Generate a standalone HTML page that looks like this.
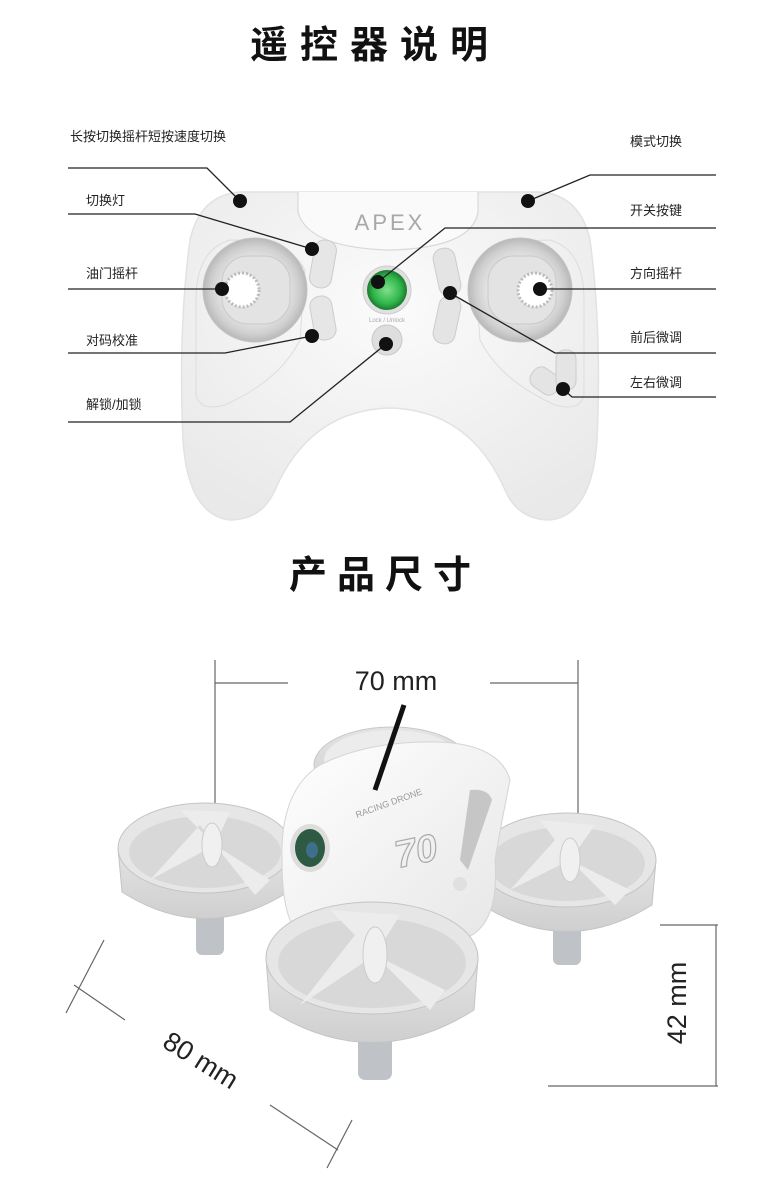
<!DOCTYPE html>
<html><head><meta charset="utf-8"><style>
html,body{margin:0;padding:0;background:#fff;}
svg{display:block;}
text{font-family:"Liberation Sans","Noto Sans CJK SC",sans-serif;}
</style></head><body>
<svg width="780" height="1200" viewBox="0 0 780 1200" xmlns="http://www.w3.org/2000/svg">
<defs>
<radialGradient id="body" cx="0.5" cy="0.35" r="0.7"><stop offset="0" stop-color="#fbfbfb"/><stop offset="1" stop-color="#e9e9e9"/></radialGradient>
<radialGradient id="grn" cx="0.5" cy="0.5" r="0.5"><stop offset="0" stop-color="#7fe08a"/><stop offset="0.7" stop-color="#2fb54a"/><stop offset="1" stop-color="#1d7a30"/></radialGradient>
<radialGradient id="ring" cx="0.5" cy="0.5" r="0.5"><stop offset="0.6" stop-color="#e6e6e6"/><stop offset="0.85" stop-color="#cfcfcf"/><stop offset="1" stop-color="#b8b8b8"/></radialGradient>
<linearGradient id="duct" x1="0" y1="0" x2="0" y2="1"><stop offset="0" stop-color="#e4e4e4"/><stop offset="1" stop-color="#cfcfcf"/></linearGradient>
<linearGradient id="dbody" x1="0" y1="0" x2="1" y2="1"><stop offset="0" stop-color="#ffffff"/><stop offset="1" stop-color="#e6e6e6"/></linearGradient>
</defs>

<!-- Titles -->
<text x="375" y="58" font-size="38" font-weight="bold" text-anchor="middle" letter-spacing="12" fill="#111">遥控器说明</text>
<text x="385" y="588" font-size="38" font-weight="bold" text-anchor="middle" letter-spacing="10" fill="#111">产品尺寸</text>

<!-- Controller body -->
<path d="M240 192 Q200 195 190 240 Q178 330 183 440 Q188 515 230 520 Q262 520 275 490 Q310 410 390 408 Q470 410 505 490 Q518 520 550 520 Q592 515 597 440 Q602 330 590 240 Q580 195 540 192 Z" fill="url(#body)" stroke="#e2e2e2" stroke-width="1.5"/>
<path d="M298 192 L298 212 Q308 248 390 250 Q472 248 478 212 L478 192" fill="#fafafa" stroke="#d8d8d8" stroke-width="1.2"/>
<text x="390" y="230" font-size="22" text-anchor="middle" fill="#a8a8a8" letter-spacing="3">APEX</text>
<path d="M230 240 Q196 250 196 300 L196 395 Q200 412 225 405 Q280 380 300 340 L305 270 Q290 240 230 240Z" fill="none" stroke="#ddd" stroke-width="1"/>
<path d="M550 240 Q584 250 584 300 L584 395 Q580 412 555 405 Q500 380 480 340 L475 270 Q490 240 550 240Z" fill="none" stroke="#ddd" stroke-width="1"/>
<circle cx="255" cy="290" r="52" fill="url(#ring)" stroke="#c2c2c2"/>
<rect x="222" y="256" width="68" height="68" rx="26" fill="#e3e3e3" stroke="#c9c9c9"/>
<circle cx="242" cy="290" r="17" fill="#fff" stroke="#bbb" stroke-width="3" stroke-dasharray="2 2"/>
<circle cx="242" cy="290" r="8" fill="#fff"/>
<circle cx="520" cy="290" r="52" fill="url(#ring)" stroke="#c2c2c2"/>
<rect x="488" y="256" width="68" height="68" rx="26" fill="#e3e3e3" stroke="#c9c9c9"/>
<circle cx="535" cy="290" r="17" fill="#fff" stroke="#bbb" stroke-width="3" stroke-dasharray="2 2"/>
<rect x="312" y="240" width="22" height="48" rx="10" fill="#e6e6e6" stroke="#ccc" transform="rotate(10 323 264)"/>
<rect x="312" y="296" width="22" height="44" rx="10" fill="#e6e6e6" stroke="#ccc" transform="rotate(-10 323 318)"/>
<circle cx="387" cy="290" r="24" fill="#e0e0e0" stroke="#ccc"/>
<circle cx="387" cy="290" r="20" fill="url(#grn)"/>
<text x="387" y="322" font-size="6" text-anchor="middle" fill="#aaa">Lock / Unlock</text>
<circle cx="387" cy="340" r="15" fill="#dedede" stroke="#c8c8c8"/>
<rect x="436" y="248" width="22" height="48" rx="10" fill="#e4e4e4" stroke="#ccc" transform="rotate(-12 447 272)"/>
<rect x="436" y="296" width="22" height="48" rx="10" fill="#e4e4e4" stroke="#ccc" transform="rotate(12 447 320)"/>
<rect x="530" y="370" width="30" height="22" rx="9" fill="#e4e4e4" stroke="#ccc" transform="rotate(35 545 381)"/>
<rect x="556" y="350" width="20" height="40" rx="9" fill="#e4e4e4" stroke="#ccc"/>

<!-- Callouts -->
<g stroke="#222" stroke-width="1.3" fill="none">
<polyline points="68,168 207,168 240,201"/>
<polyline points="716,175 590,175 528,201"/>
<polyline points="68,214 195,214 312,249"/>
<polyline points="716,228 445,228 378,282"/>
<polyline points="68,289 222,289"/>
<polyline points="716,289 540,289"/>
<polyline points="68,353 225,353 312,336"/>
<polyline points="450,293 555,353 716,353"/>
<polyline points="563,389 572,397 716,397"/>
<polyline points="68,422 290,422 386,344"/>
</g>
<g fill="#111">
<circle cx="240" cy="201" r="7"/><circle cx="528" cy="201" r="7"/>
<circle cx="312" cy="249" r="7"/><circle cx="378" cy="282" r="7"/>
<circle cx="222" cy="289" r="7"/><circle cx="540" cy="289" r="7"/>
<circle cx="312" cy="336" r="7"/><circle cx="450" cy="293" r="7"/>
<circle cx="563" cy="389" r="7"/><circle cx="386" cy="344" r="7"/>
</g>
<g font-size="13" fill="#222">
<text x="70" y="141">长按切换摇杆短按速度切换</text>
<text x="630" y="146">模式切换</text>
<text x="86" y="205">切换灯</text>
<text x="630" y="215">开关按键</text>
<text x="86" y="278">油门摇杆</text>
<text x="630" y="278">方向摇杆</text>
<text x="86" y="345">对码校准</text>
<text x="630" y="342">前后微调</text>
<text x="630" y="387">左右微调</text>
<text x="86" y="409">解锁/加锁</text>
</g>

<!-- Dimension lines -->
<g stroke="#666" stroke-width="1.2" fill="none">
<line x1="215" y1="660" x2="215" y2="805"/>
<line x1="578" y1="660" x2="578" y2="820"/>
<line x1="215" y1="683" x2="288" y2="683"/>
<line x1="490" y1="683" x2="578" y2="683"/>
<line x1="716" y1="925" x2="716" y2="1086"/>
<line x1="660" y1="925" x2="718" y2="925"/>
<line x1="548" y1="1086" x2="718" y2="1086"/>
<line x1="104" y1="940" x2="66" y2="1013"/>
<line x1="74" y1="985" x2="125" y2="1020"/>
<line x1="270" y1="1105" x2="338" y2="1150"/>
<line x1="352" y1="1120" x2="327" y2="1168"/>
</g>
<text x="396" y="690" font-size="27" text-anchor="middle" fill="#222">70 mm</text>
<text x="0" y="0" font-size="27" text-anchor="middle" fill="#222" transform="translate(686 1003) rotate(-90)">42 mm</text>
<text x="0" y="0" font-size="27" text-anchor="middle" fill="#222" transform="translate(196 1068) rotate(32)">80 mm</text>

<!-- Drone -->
<ellipse cx="392" cy="765" rx="78" ry="38" fill="url(#duct)" stroke="#c8c8c8"/>
<ellipse cx="392" cy="760" rx="68" ry="30" fill="#ececec"/>
<rect x="255" y="870" width="270" height="22" fill="#dcdcdc"/>
<rect x="196" y="900" width="28" height="55" rx="6" fill="#bfc3c8"/>
<path d="M118 848 L122 892 Q205 945 288 892 L292 848" fill="url(#duct)" stroke="#c4c4c4"/>
<ellipse cx="205" cy="848" rx="87" ry="45" fill="#e6e6e6" stroke="#c4c4c4"/>
<ellipse cx="205" cy="852" rx="76" ry="36" fill="#d8d8d8"/>
<path d="M150 880 L215 845 L200 825Z M215 845 L270 880 L255 895Z M215 845 L180 810 L230 812Z" fill="#ececec"/>
<ellipse cx="212" cy="845" rx="10" ry="22" fill="#f0f0f0" stroke="#ccc"/>
<rect x="553" y="905" width="28" height="60" rx="6" fill="#bfc3c8"/>
<path d="M478 860 L482 905 Q567 958 652 905 L656 860" fill="url(#duct)" stroke="#c4c4c4"/>
<ellipse cx="567" cy="860" rx="89" ry="47" fill="#e6e6e6" stroke="#c4c4c4"/>
<ellipse cx="567" cy="864" rx="78" ry="37" fill="#d8d8d8"/>
<path d="M510 890 L570 860 L555 840Z M570 860 L630 890 L615 905Z M570 860 L540 820 L595 825Z" fill="#ececec"/>
<ellipse cx="570" cy="860" rx="10" ry="22" fill="#f0f0f0" stroke="#ccc"/>
<path d="M282 860 Q280 790 320 765 Q370 740 440 742 Q500 745 510 780 Q500 830 495 860 Q500 930 460 940 Q380 950 300 935 Q282 920 282 860Z" fill="url(#dbody)" stroke="#d4d4d4"/>
<path d="M470 790 Q488 788 492 800 L468 870 L460 860Z" fill="#c6c6c6"/>
<text x="0" y="0" font-size="9" fill="#999" transform="translate(357 818) rotate(-20)">RACING DRONE</text>
<text x="0" y="0" font-size="38" font-style="italic" font-weight="bold" fill="none" stroke="#aaa" stroke-width="1.2" transform="translate(398 868) rotate(-12)">70</text>
<circle cx="460" cy="884" r="7" fill="#e0e0e0"/>
<ellipse cx="310" cy="848" rx="20" ry="24" fill="#ddd"/>
<ellipse cx="310" cy="848" rx="15" ry="19" fill="#2e5a44"/>
<ellipse cx="312" cy="850" rx="6" ry="8" fill="#3d6f8a"/>
<line x1="404" y1="705" x2="375" y2="790" stroke="#111" stroke-width="5"/>
<rect x="358" y="1030" width="34" height="50" rx="7" fill="#bfc3c8"/>
<path d="M266 958 L270 1010 Q372 1075 474 1010 L478 958" fill="url(#duct)" stroke="#c4c4c4"/>
<ellipse cx="372" cy="958" rx="106" ry="56" fill="#e6e6e6" stroke="#c4c4c4"/>
<ellipse cx="372" cy="963" rx="94" ry="45" fill="#d8d8d8"/>
<path d="M300 1005 L375 955 L355 935Z M375 955 L445 990 L430 1010Z M375 955 L330 910 L400 915Z" fill="#ececec"/>
<ellipse cx="375" cy="955" rx="12" ry="28" fill="#f0f0f0" stroke="#ccc"/>
</svg>
</body></html>
